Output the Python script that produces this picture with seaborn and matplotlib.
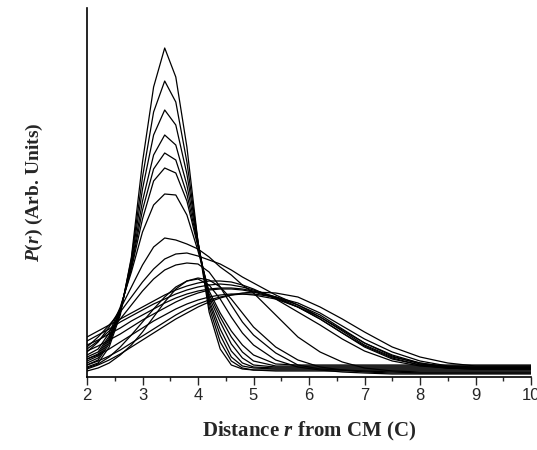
import numpy as np
import pandas as pd
import matplotlib
matplotlib.use("Agg")
import matplotlib.pyplot as plt
from matplotlib.ticker import MultipleLocator
import seaborn as sns

# distance grid (r, in C)
r_values = [2.0, 2.2, 2.4, 2.6, 2.8, 3.0, 3.2, 3.4, 3.6, 3.8, 4.0, 4.2, 4.4,
            4.6, 4.8, 5.0, 5.4, 5.8, 6.2, 6.6, 7.0, 7.5, 8.0, 8.5, 9.0, 10.0]

# P(r) curves, arbitrary units
curve_A = [10, 14, 30, 62, 120, 215, 290, 329, 300, 230, 135, 65, 28, 12, 8, 7, 6, 6, 6, 6, 6, 6, 6, 6, 6, 6]
curve_B = [12, 17, 33, 64, 118, 200, 265, 296, 275, 215, 135, 70, 35, 16, 9, 7, 7, 7, 7, 7, 7, 7, 7, 7, 7, 7]
curve_C = [14, 19, 35, 65, 115, 188, 242, 267, 252, 203, 135, 74, 42, 20, 11, 9, 8, 8, 8, 8, 8, 8, 8, 8, 8, 8]
curve_D = [16, 21, 37, 66, 112, 176, 222, 242, 232, 192, 134, 77, 48, 26, 14, 10, 9, 9, 9, 9, 9, 9, 9, 9, 9, 9]
curve_E = [18, 23, 39, 67, 110, 167, 208, 224, 217, 183, 132, 80, 55, 33, 19, 12, 10, 10, 10, 10, 10, 10, 10, 10, 10, 10]
curve_F = [20, 25, 41, 68, 108, 158, 196, 209, 204, 176, 130, 83, 60, 40, 25, 16, 11, 11, 11, 11, 11, 11, 11, 11, 11, 11]
curve_G = [22, 28, 44, 70, 105, 145, 172, 183, 182, 162, 126, 86, 64, 46, 32, 22, 13, 12, 12, 12, 12, 12, 12, 12, 12, 12]
curve_H = [25, 35, 50, 68, 90, 112, 130, 139, 137, 133, 128, 120, 110, 102, 92, 84, 62, 40, 25, 15, 9, 6, 5, 5, 5, 5]
curve_I = [30, 40, 52, 65, 80, 95, 108, 118, 123, 124, 121, 117, 113, 107, 100, 94, 82, 72, 60, 46, 32, 20, 14, 10, 9, 9]
curve_J = [28, 36, 46, 58, 72, 86, 98, 107, 112, 114, 113, 105, 90, 72, 55, 42, 24, 12, 8, 7, 6, 5, 4, 4, 4, 4]
curve_K = [40, 46, 52, 58, 64, 70, 76, 82, 87, 91, 94, 96, 96, 95, 92, 88, 78, 65, 52, 38, 26, 16, 11, 9, 8, 8]
curve_L = [36, 42, 48, 55, 61, 67, 73, 78, 83, 87, 90, 92, 93, 92, 90, 87, 80, 70, 58, 44, 30, 18, 12, 9, 8, 8]
curve_M = [32, 37, 43, 49, 56, 62, 68, 74, 79, 83, 86, 88, 89, 89, 88, 86, 80, 72, 62, 48, 34, 21, 13, 10, 9, 9]
curve_N = [26, 31, 37, 43, 50, 57, 63, 69, 75, 80, 84, 87, 88, 88, 87, 85, 79, 70, 58, 44, 31, 19, 12, 9, 8, 8]
curve_O = [18, 22, 28, 35, 42, 49, 56, 62, 68, 73, 77, 80, 82, 83, 83, 82, 78, 70, 60, 47, 34, 22, 14, 10, 9, 9]
curve_P = [12, 16, 21, 27, 34, 41, 48, 55, 62, 68, 73, 77, 80, 82, 83, 83, 80, 74, 64, 51, 38, 25, 16, 11, 10, 10]
curve_Q = [8, 12, 17, 23, 30, 37, 44, 51, 58, 64, 70, 75, 79, 82, 84, 85, 84, 80, 70, 58, 45, 30, 20, 14, 11, 11]
curve_R = [6, 9, 14, 22, 32, 45, 60, 75, 88, 96, 98, 92, 78, 60, 44, 32, 17, 10, 7, 5, 4, 3, 3, 3, 3, 3]
curve_S = [9, 13, 20, 30, 42, 55, 68, 80, 90, 96, 99, 97, 90, 78, 64, 50, 30, 17, 10, 7, 5, 4, 4, 4, 4, 4]

curves = {
    "A": curve_A, "B": curve_B, "C": curve_C, "D": curve_D, "E": curve_E,
    "F": curve_F, "G": curve_G, "H": curve_H, "I": curve_I, "J": curve_J,
    "K": curve_K, "L": curve_L, "M": curve_M, "N": curve_N, "O": curve_O,
    "P": curve_P, "Q": curve_Q, "R": curve_R, "S": curve_S,
}

x_ticks = [2, 3, 4, 5, 6, 7, 8, 9, 10]

rows = []
for name, vals in curves.items():
    for x, y in zip(r_values, vals):
        rows.append({"r": x, "P": y, "curve": name})
df = pd.DataFrame(rows)

sns.set_style("ticks")
plt.rcParams["font.family"] = ["Liberation Sans", "DejaVu Sans"]
plt.rcParams["mathtext.fontset"] = "custom"
plt.rcParams["mathtext.rm"] = "Liberation Serif:bold"
plt.rcParams["mathtext.it"] = "Liberation Serif:italic:bold"
plt.rcParams["mathtext.bf"] = "Liberation Serif:bold"

fig = plt.figure(figsize=(5.37, 4.5), dpi=100)
ax = fig.add_axes([87 / 537, 73 / 450, 444 / 537, 369 / 450])

sns.lineplot(data=df, x="r", y="P", units="curve", estimator=None,
             color="black", linewidth=0.9, ax=ax, legend=False, sort=False)

ax.set_xlim(2, 10)
ax.set_ylim(0, 369)
ax.set_xticks(x_ticks)
ax.set_xticklabels([str(t) for t in x_ticks])
ax.xaxis.set_minor_locator(MultipleLocator(0.5))
ax.set_yticks([])
ax.tick_params(axis="x", which="major", direction="out", length=6, width=1,
               labelsize=12, pad=2)
ax.tick_params(axis="x", which="minor", direction="out", length=3, width=1)
for side in ["top", "right"]:
    ax.spines[side].set_visible(False)
for side in ["left", "bottom"]:
    ax.spines[side].set_linewidth(1.2)
    ax.spines[side].set_color("black")

ax.set_xlabel(r"Distance $r$ from CM (C)", family="Liberation Serif",
              fontweight="bold", fontsize=15, labelpad=12)
ax.set_ylabel(r"$P$($r$) (Arb. Units)", family="Liberation Serif",
              fontweight="bold", fontsize=14, labelpad=30)

fig.savefig("out.png", dpi=100)
